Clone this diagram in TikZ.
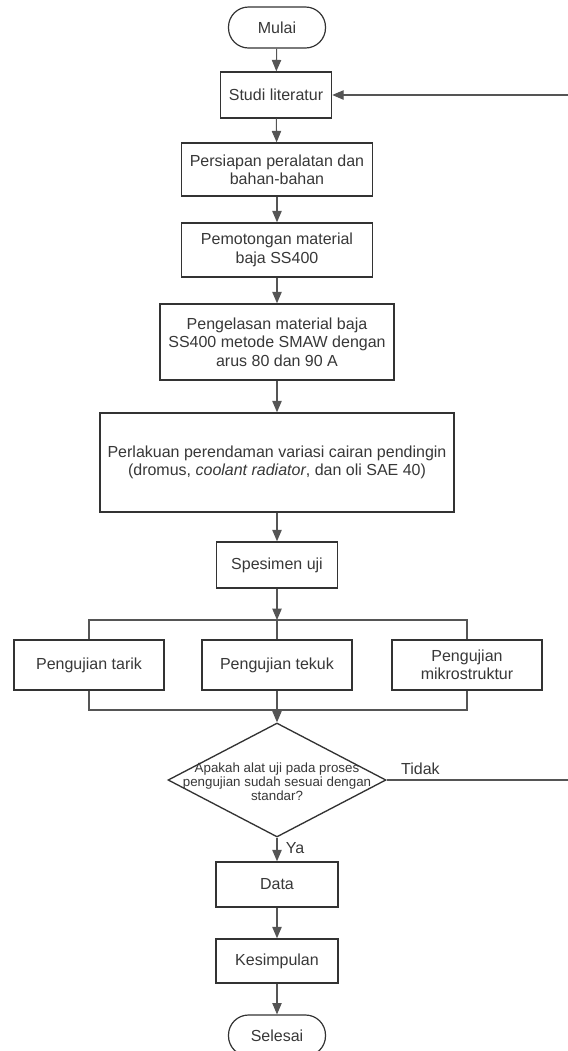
\documentclass[tikz,border=0pt]{standalone}
\usepackage{fontspec}
\setmainfont{Liberation Sans}
\usepackage{xcolor}
\usetikzlibrary{arrows.meta,positioning,shapes.geometric}
\definecolor{EdgeGray}{HTML}{333333}
\definecolor{LinkGray}{HTML}{555555}
\definecolor{InkGray}{HTML}{383838}

\begin{document}
\begin{tikzpicture}[
  x=0.75pt,y=-0.75pt,
  font=\fontsize{12}{13.8}\selectfont,text=InkGray,
  box/.style={draw=EdgeGray,line width=1.1pt,align=center,inner sep=2pt,fill=white},
  terminal/.style={box,rounded corners=15pt,minimum width=72.75pt,minimum height=30.75pt,line width=0.9pt},
  process/.style={box,minimum width=#1},
  decision/.style={diamond,draw=EdgeGray,line width=1pt,fill=white,
                   minimum width=163.5pt,minimum height=85.5pt,inner sep=0pt},
  link/.style={draw=LinkGray,line width=0.8pt},
  arr/.style={link,-{Triangle[length=8.5pt,width=7pt]}}
]
\useasboundingbox (0,0) rectangle (568,1051);

\node[terminal] (mulai) at (277,27.5) {Mulai};
\node[process=83.25pt,minimum height=34.5pt] (studi) at (276,95) {Studi literatur};
\node[process=143.25pt,minimum height=39.75pt] (siap) at (277,169.5)
 {Persiapan peralatan dan\\bahan-bahan};
\node[process=143.25pt,minimum height=40.5pt] (potong) at (277,250)
 {Pemotongan material\\baja SS400};
\node[process=175.5pt,minimum height=57pt] (las) at (277,342)
 {Pengelasan material baja\\SS400 metode SMAW dengan\\arus 80 dan 90 A};
\node[process=265.5pt,minimum height=74.25pt] (rendam) at (277,462.5)
 {Perlakuan perendaman variasi cairan pendingin\\(dromus, \textit{coolant radiator}, dan oli SAE 40)};
\node[process=90.75pt,minimum height=34.5pt] (spesimen) at (277,565) {Spesimen uji};
\node[process=112.5pt,minimum height=37.5pt] (tarik) at (89,665) {Pengujian tarik};
\node[process=112.5pt,minimum height=37.5pt] (tekuk) at (277,665) {Pengujian tekuk};
\node[process=112.5pt,minimum height=37.5pt] (mikro) at (467,665) {Pengujian\\mikrostruktur};
\node[decision,label={[font=\fontsize{10}{10.5}\selectfont,align=center,text=InkGray,yshift=-1pt]center:Apakah alat uji pada proses\\pengujian sudah sesuai dengan\\standar?}]
 (cek) at (277,780) {};
\node[process=91.5pt,minimum height=33.75pt] (data) at (277,884.5) {Data};
\node[process=91.5pt,minimum height=33pt] (simpul) at (277,961) {Kesimpulan};
\node[terminal] (selesai) at (277,1035.5) {Selesai};

\coordinate (split) at (277,620);
\coordinate (join) at (277,710);
\coordinate (balik) at (574,780);

\draw[arr] (mulai) -- (studi);
\draw[arr] (studi) -- (siap);
\draw[arr] (siap) -- (potong);
\draw[arr] (potong) -- (las);
\draw[arr] (las) -- (rendam);
\draw[arr] (rendam) -- (spesimen);
\draw[arr] (spesimen) -- (split);
\draw[link] (tarik.north) |- (split) -| (mikro.north);
\draw[link] (split) -- (tekuk.north);
\draw[link] (tarik.south) |- (join) -| (mikro.south);
\draw[arr] (tekuk.south) -- (cek.north);
\draw[arr] (cek.south) -- node[right,pos=0.42,xshift=3pt]{Ya} (data.north);
\draw[arr] (data) -- (simpul);
\draw[arr] (simpul) -- (selesai);
\draw[arr] (cek.east) -- node[above,pos=0.18]{Tidak} (balik) |- (studi.east);
\end{tikzpicture}
\end{document}
